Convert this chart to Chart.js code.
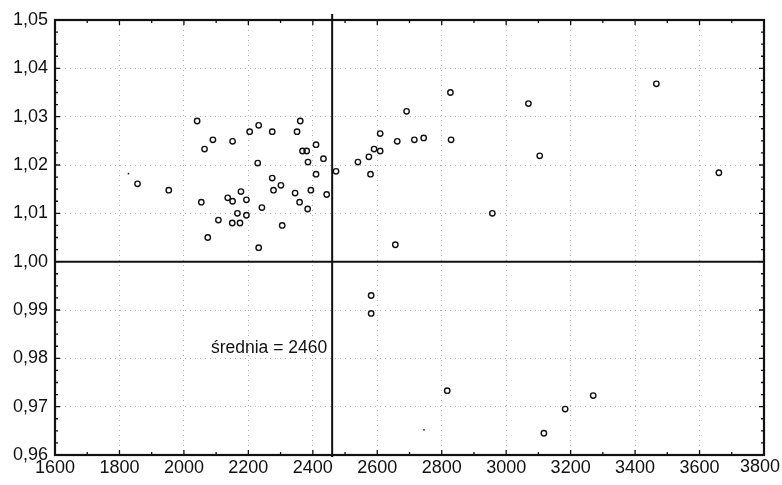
<!DOCTYPE html>
<html>
<head>
<meta charset="utf-8">
<script src="https://cdn.jsdelivr.net/npm/chart.js@4.4.1/dist/chart.umd.min.js"></script>
<style>
  html, body { margin: 0; padding: 0; background: #fff; }
  #wrap { width: 782px; height: 485px; }
</style>
</head>
<body>
<div id="wrap"><canvas id="c"></canvas></div>
<script>
// scatter values
const xVals = [1856, 1953, 2041, 2064, 2090, 2054, 2074, 2107, 2151, 2136, 2151, 2177, 2194, 2166,
  2194, 2150, 2174, 2204, 2232, 2229, 2232, 2242, 2274, 2274, 2278, 2301, 2305, 2351, 2361, 2368,
  2381, 2385, 2410, 2433, 2410, 2345, 2394, 2359, 2384, 2443, 2472, 2540, 2574, 2579, 2590, 2609,
  2609, 2662, 2691, 2715, 2744, 2827, 2829, 2957, 2656, 3069, 3104, 3466, 3660, 2581, 2581, 2817,
  3270, 3183, 3117];
const yVals = [1.0161, 1.0148, 1.0291, 1.0233, 1.0252, 1.0123, 1.0050, 1.0086, 1.0249, 1.0132, 1.0125,
  1.0145, 1.0128, 1.0100, 1.0096, 1.0080, 1.0080, 1.0269, 1.0282, 1.0204, 1.0029, 1.0112, 1.0269,
  1.0173, 1.0148, 1.0158, 1.0075, 1.0269, 1.0291, 1.0229, 1.0229, 1.0206, 1.0242, 1.0213, 1.0181,
  1.0142, 1.0148, 1.0123, 1.0109, 1.0139, 1.0187, 1.0206, 1.0217, 1.0181, 1.0233, 1.0229, 1.0265,
  1.0249, 1.0311, 1.0252, 1.0256, 1.0350, 1.0252, 1.0100, 1.0035, 1.0327, 1.0219, 1.0368, 1.0184,
  0.9930, 0.9893, 0.9733, 0.9723, 0.9695, 0.9645];
// two tiny specks that are also on the scan
const dotX = [1828, 2745];
const dotY = [1.0182, 0.9652];

const MEAN_X = 2460;
const REF_Y = 1.00;
const X_MIN = 1600, X_MAX = 3800, X_STEP = 200;
const Y_MIN = 0.96, Y_MAX = 1.05, Y_STEP = 0.01;

const FONT = "'Liberation Sans', Arial, sans-serif";

const pts = xVals.map((x, i) => ({ x, y: yVals[i] }));
const dots = dotX.map((x, i) => ({ x, y: dotY[i] }));

// frame, inward ticks, mean lines and label
const overlay = {
  id: 'overlay',
  afterDatasetsDraw(chart) {
    const { ctx, chartArea: a, scales: { x, y } } = chart;
    ctx.save();
    ctx.strokeStyle = '#111';

    // small inward ticks on all four sides
    ctx.lineWidth = 1.3;
    for (let v = X_MIN; v <= X_MAX; v += 100) {
      const px = x.getPixelForValue(v);
      const len = (v % 200 === 0) ? 5 : 3;
      ctx.beginPath();
      ctx.moveTo(px, a.bottom); ctx.lineTo(px, a.bottom - len);
      ctx.moveTo(px, a.top); ctx.lineTo(px, a.top + len);
      ctx.stroke();
    }
    for (let k = 0; k <= 36; k++) {
      const py = y.getPixelForValue(Y_MIN + k * 0.0025);
      const len = (k % 4 === 0) ? 5 : 3;
      ctx.beginPath();
      ctx.moveTo(a.left, py); ctx.lineTo(a.left + len, py);
      ctx.moveTo(a.right, py); ctx.lineTo(a.right - len, py);
      ctx.stroke();
    }

    // reference lines
    ctx.lineWidth = 2;
    const mx = x.getPixelForValue(MEAN_X);
    const ry = y.getPixelForValue(REF_Y);
    ctx.beginPath();
    ctx.moveTo(mx, a.top - 6); ctx.lineTo(mx, a.bottom + 2);
    ctx.moveTo(a.left, ry); ctx.lineTo(a.right, ry);
    ctx.stroke();

    // frame
    ctx.lineWidth = 2.2;
    ctx.strokeRect(a.left, a.top, a.right - a.left, a.bottom - a.top);

    ctx.fillStyle = '#111';
    ctx.font = '18px ' + FONT;
    ctx.textBaseline = 'top';
    // last x label is pushed in so it stays on the canvas, like the scan
    ctx.textAlign = 'right';
    ctx.fillText(String(X_MAX), Math.min(x.getPixelForValue(X_MAX) + 20, chart.width - 2), a.bottom + 3);

    // label
    ctx.font = '17.5px ' + FONT;
    ctx.textBaseline = 'middle';
    ctx.fillText('średnia = ' + MEAN_X, mx - 5, y.getPixelForValue(0.982));
    ctx.restore();
  }
};

new Chart(document.getElementById('c'), {
  type: 'scatter',
  data: {
    datasets: [
      {
        data: pts,
        pointStyle: 'circle',
        pointRadius: 2.7,
        pointBorderWidth: 1.4,
        pointBorderColor: '#111',
        pointBackgroundColor: 'rgba(255,255,255,0)'
      },
      {
        data: dots,
        pointRadius: 0.9,
        pointBorderWidth: 0,
        pointBackgroundColor: '#222'
      }
    ]
  },
  options: {
    responsive: true,
    maintainAspectRatio: false,
    animation: false,
    layout: { padding: { top: 20, right: 18, left: 0, bottom: 0 } },
    plugins: { legend: { display: false }, tooltip: { enabled: false } },
    scales: {
      x: {
        type: 'linear',
        min: X_MIN, max: X_MAX,
        afterFit: s => { s.height = 30; s.paddingLeft = 0; s.paddingRight = 0; },
        ticks: {
          stepSize: X_STEP,
          color: '#111',
          padding: 2,
          font: { family: FONT, size: 18 },
          callback: v => (v === X_MAX ? '' : String(v))
        },
        grid: { color: 'rgba(0,0,0,0.3)', lineWidth: 1, tickLength: 0 },
        border: { display: false, dash: [1, 4] }
      },
      y: {
        type: 'linear',
        min: Y_MIN, max: Y_MAX,
        afterFit: s => { s.width = 55; s.paddingTop = 0; s.paddingBottom = 0; },
        ticks: {
          stepSize: Y_STEP,
          color: '#111',
          padding: 7,
          font: { family: FONT, size: 18 },
          callback: v => v.toFixed(2).replace('.', ',')
        },
        grid: { color: 'rgba(0,0,0,0.3)', lineWidth: 1, tickLength: 0 },
        border: { display: false, dash: [1, 4] }
      }
    }
  },
  plugins: [overlay]
});
</script>
</body>
</html>
